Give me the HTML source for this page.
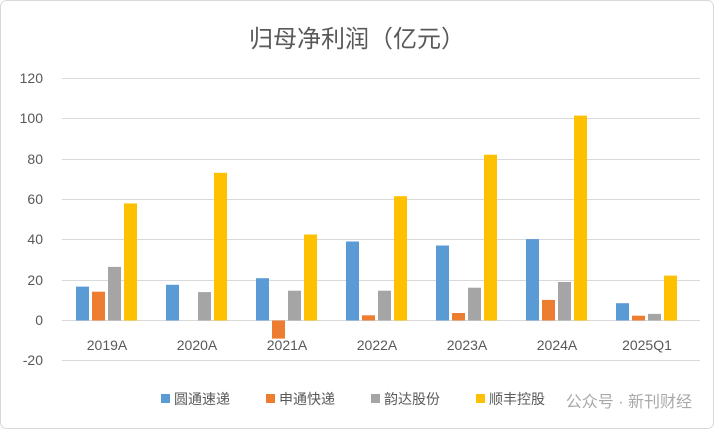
<!DOCTYPE html>
<html><head><meta charset="utf-8"><style>
body{margin:0;background:#fff;}
svg{display:block;font-family:"Liberation Sans","Noto Sans CJK SC",sans-serif;}
</style></head><body>
<svg width="714" height="429" viewBox="0 0 714 429" xmlns="http://www.w3.org/2000/svg">
<rect x="0.5" y="0.5" width="713" height="428" rx="6" fill="#fff" stroke="#d9d9d9"/>
<text x="357" y="47" text-anchor="middle" font-size="24" fill="#595959">归母净利润（亿元）</text>
<g stroke="#d9d9d9" stroke-width="1">
<line x1="62" x2="700" y1="78.5" y2="78.5"/>
<line x1="62" x2="700" y1="118.5" y2="118.5"/>
<line x1="62" x2="700" y1="159.5" y2="159.5"/>
<line x1="62" x2="700" y1="199.5" y2="199.5"/>
<line x1="62" x2="700" y1="239.5" y2="239.5"/>
<line x1="62" x2="700" y1="280.5" y2="280.5"/>
<line x1="62" x2="700" y1="320.5" y2="320.5"/>
<line x1="62" x2="700" y1="360.5" y2="360.5"/>
</g>
<g font-size="14" fill="#595959" text-anchor="end">
<text x="43" y="83">120</text><text x="43" y="123">100</text><text x="43" y="164">80</text>
<text x="43" y="204">60</text><text x="43" y="244">40</text><text x="43" y="285">20</text>
<text x="43" y="325">0</text><text x="43" y="365">-20</text>
</g>
<g fill="#5B9BD5">
<rect x="76" y="286.6" width="13" height="33.9"/>
<rect x="166" y="284.8" width="13" height="35.7"/>
<rect x="256" y="278.2" width="13" height="42.3"/>
<rect x="346" y="241.5" width="13" height="79"/>
<rect x="436" y="245.5" width="13" height="75"/>
<rect x="526" y="239.1" width="13" height="81.4"/>
<rect x="616" y="303.2" width="13" height="17.3"/>
</g>
<g fill="#ED7D31">
<rect x="92" y="291.7" width="13" height="28.8"/>
<rect x="272" y="320.5" width="13" height="18.1"/>
<rect x="362" y="315.3" width="13" height="5.2"/>
<rect x="452" y="313" width="13" height="7.5"/>
<rect x="542" y="299.9" width="13" height="20.6"/>
<rect x="632" y="315.7" width="13" height="4.8"/>
</g>
<g fill="#A5A5A5">
<rect x="108" y="266.9" width="13" height="53.6"/>
<rect x="198" y="292.1" width="13" height="28.4"/>
<rect x="288" y="290.7" width="13" height="29.8"/>
<rect x="378" y="290.7" width="13" height="29.8"/>
<rect x="468" y="287.7" width="13" height="32.8"/>
<rect x="558" y="282" width="13" height="38.5"/>
<rect x="648" y="313.9" width="13" height="6.6"/>
</g>
<g fill="#FFC000">
<rect x="124" y="203.4" width="13" height="117.1"/>
<rect x="214" y="172.8" width="13" height="147.7"/>
<rect x="304" y="234.5" width="13" height="86"/>
<rect x="394" y="196.2" width="13" height="124.3"/>
<rect x="484" y="154.7" width="13" height="165.8"/>
<rect x="574" y="115.6" width="13" height="204.9"/>
<rect x="664" y="275.6" width="13" height="44.9"/>
</g>
<g font-size="14" fill="#595959" text-anchor="middle">
<text x="107" y="350">2019A</text><text x="197" y="350">2020A</text><text x="287" y="350">2021A</text>
<text x="377" y="350">2022A</text><text x="467" y="350">2023A</text><text x="557" y="350">2024A</text>
<text x="647" y="350">2025Q1</text>
</g>
<g font-size="14" fill="#595959">
<rect x="161" y="394" width="9" height="9" fill="#5B9BD5"/><text x="174" y="404">圆通速递</text>
<rect x="266" y="394" width="9" height="9" fill="#ED7D31"/><text x="279" y="404">申通快递</text>
<rect x="371" y="394" width="9" height="9" fill="#A5A5A5"/><text x="384" y="404">韵达股份</text>
<rect x="476" y="394" width="9" height="9" fill="#FFC000"/><text x="489" y="404">顺丰控股</text>
</g>
<text x="692" y="407" text-anchor="end" font-size="16" fill="#9a9a9a" opacity="0.85">公众号 · 新刊财经</text>
</svg>
</body></html>
